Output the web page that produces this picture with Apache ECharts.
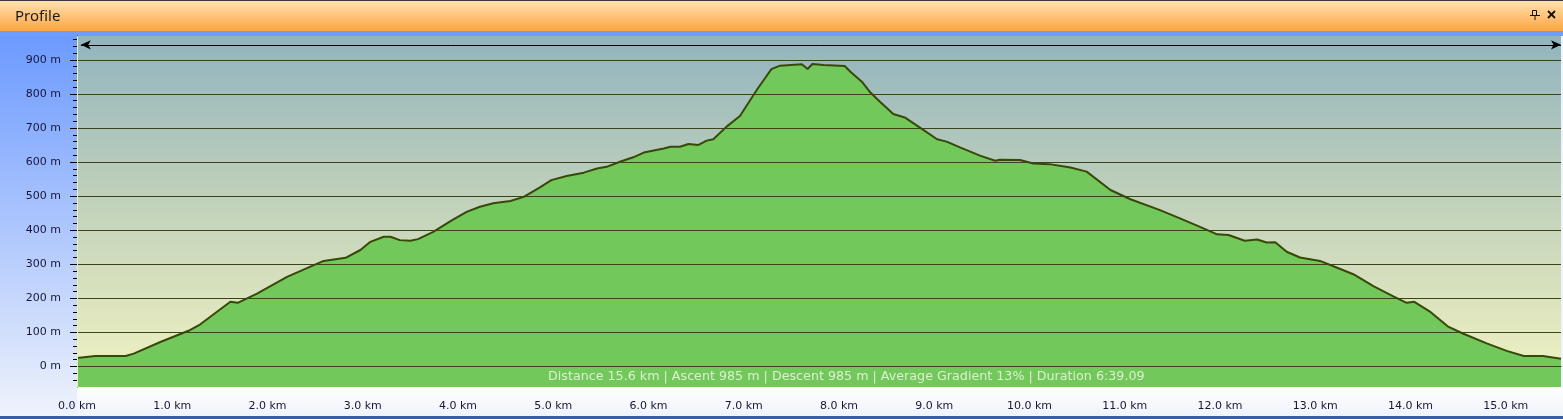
<!DOCTYPE html>
<html>
<head>
<meta charset="utf-8">
<script src="https://cdn.jsdelivr.net/npm/echarts@6/dist/echarts.min.js"></script>
<style>
html,body{margin:0;padding:0;width:1563px;height:419px;overflow:hidden;background:#eef3fc;}
#chart{width:1563px;height:419px;}
</style>
</head>
<body>
<div id="chart"></div>
<script>
// ---- data ----
const distanceKm = [
  0.00, 0.19, 0.51, 0.595, 0.875, 1.17, 1.295, 1.61, 1.687, 1.89,
  2.205, 2.45, 2.59, 2.82, 2.975, 3.08, 3.22, 3.29, 3.39, 3.50,
  3.58, 3.74, 3.93, 4.09, 4.23, 4.37, 4.55, 4.69, 4.86, 4.98,
  5.14, 5.32, 5.46, 5.56, 5.70, 5.84, 5.95, 6.16, 6.23, 6.33,
  6.42, 6.52, 6.61, 6.68, 6.82, 6.96, 7.14, 7.21, 7.29, 7.38,
  7.61, 7.67, 7.72, 7.84, 8.06, 8.12, 8.24, 8.33, 8.43, 8.57,
  8.69, 8.85, 9.03, 9.13, 9.27, 9.41, 9.48, 9.64, 9.69, 9.90,
  10.04, 10.21, 10.43, 10.60, 10.85, 11.06, 11.37, 11.58, 11.79, 11.97,
  12.09, 12.26, 12.39, 12.49, 12.58, 12.70, 12.84, 13.05, 13.23, 13.40,
  13.61, 13.82, 13.96, 14.04, 14.20, 14.39, 14.55, 14.80, 15.01, 15.19,
  15.39, 15.58
];
const elevationM = [
  25, 31, 31, 38, 72, 105, 124, 190, 187, 214,
  263, 293, 310, 319, 342, 366, 381, 381, 371, 369,
  374, 395, 428, 454, 469, 479, 486, 498, 526, 547,
  559, 569, 581, 586, 601, 614, 628, 640, 645, 645,
  653, 650, 663, 667, 704, 735, 813, 841, 873, 883,
  887, 873, 888, 885, 882, 865, 836, 804, 777, 741,
  731, 701, 667, 660, 643, 627, 619, 604, 607, 606,
  596, 594, 584, 572, 518, 491, 459, 435, 410, 388,
  386, 369, 373, 364, 365, 337, 320, 310, 290, 271,
  236, 206, 187, 190, 162, 118, 97, 68, 46, 31,
  31, 23
];
const yMajorTicks = [0, 100, 200, 300, 400, 500, 600, 700, 800, 900];
const xMajorTicks = [0, 1, 2, 3, 4, 5, 6, 7, 8, 9, 10, 11, 12, 13, 14, 15];
const totalDistanceKm = 15.58;
const arrowElevation = 944;
const panelTitle = 'Profile';
const statsText = 'Distance 15.6 km | Ascent 985 m | Descent 985 m | Average Gradient 13% | Duration 6:39.09';

// ---- chart ----
const profileData = distanceKm.map((d, i) => [d, elevationM[i]]);
const FONT = 'DejaVu Sans';
const LABEL_COLOR = '#16163a';

const chart = echarts.init(document.getElementById('chart'), null, {renderer: 'canvas'});

const grip = [];
for (let y = 6; y <= 27; y += 3) {
  grip.push({type: 'rect', shape: {x: 6, y: y, width: 2, height: 1}, style: {fill: '#4a4a4a'}, z: 10});
}

const option = {
  animation: false,
  backgroundColor: 'transparent',
  grid: {
    left: 77, right: 2, top: 36, bottom: 32,
    show: true, borderWidth: 0,
    backgroundColor: {
      type: 'linear', x: 0, y: 0, x2: 0, y2: 1,
      colorStops: [
        {offset: 0, color: '#92b4bf'},
        {offset: 0.45, color: '#bfd0bb'},
        {offset: 1, color: '#f2f3c2'}
      ]
    }
  },
  xAxis: [{
    type: 'value', min: 0, max: totalDistanceKm, interval: 0.2, offset: 3,
    axisLine: {show: true, lineStyle: {color: '#000', width: 1}},
    axisTick: {show: true, length: 3, lineStyle: {color: '#000', width: 1}},
    axisLabel: {
      interval: 0, margin: 11, fontSize: 11, fontFamily: FONT, color: LABEL_COLOR,
      showMinLabel: true, showMaxLabel: false,
      formatter: v => Math.abs(v - Math.round(v)) < 1e-6 ? Math.round(v).toFixed(1) + ' km' : ''
    },
    splitLine: {show: false}
  }, {
    type: 'value', min: 0, max: totalDistanceKm, offset: 3, position: 'bottom',
    axisLine: {show: false},
    axisTick: {show: true, length: 6, customValues: xMajorTicks, lineStyle: {color: '#000', width: 1}},
    axisLabel: {show: false},
    splitLine: {show: false}
  }],
  yAxis: [{
    type: 'value', min: -60, max: 970, interval: 20, offset: 3, position: 'left',
    axisLine: {show: true, lineStyle: {color: '#000', width: 1}},
    axisTick: {show: true, length: 4, lineStyle: {color: '#000', width: 1}},
    axisLabel: {
      interval: 0, margin: 13, fontSize: 11, fontFamily: FONT, color: LABEL_COLOR,
      showMinLabel: false, showMaxLabel: false,
      formatter: v => (Math.round(v) % 100 === 0 && v >= 0 && v <= 900) ? Math.round(v) + ' m' : ''
    },
    splitLine: {show: false}
  }, {
    type: 'value', min: -60, max: 970, offset: 3, position: 'left',
    axisLine: {show: false},
    axisTick: {show: true, length: 7, customValues: yMajorTicks, lineStyle: {color: '#000', width: 1}},
    axisLabel: {show: false},
    splitLine: {show: false}
  }],
  series: [{
    // grid lines (drawn below the profile)
    type: 'line', z: 1, xAxisIndex: 0, yAxisIndex: 0,
    data: profileData, symbol: 'none', silent: true,
    lineStyle: {opacity: 0},
    markLine: {
      silent: true, symbol: 'none', label: {show: false},
      lineStyle: {color: '#3b4418', width: 1, type: 'solid'},
      emphasis: {disabled: true},
      data: yMajorTicks.map(v => ({yAxis: v}))
    }
  }, {
    type: 'line', z: 3, xAxisIndex: 0, yAxisIndex: 0,
    data: profileData, symbol: 'none', smooth: false, silent: true,
    lineStyle: {color: '#384808', width: 2},
    areaStyle: {color: '#72c85a', opacity: 1, origin: 'start'},
    markLine: {
      silent: true, symbol: ['arrow', 'arrow'], symbolSize: [7, 10],
      label: {show: false}, emphasis: {disabled: true},
      lineStyle: {color: '#000', width: 1, type: 'solid'},
      data: [[{coord: [0.04, arrowElevation]}, {coord: [totalDistanceKm, arrowElevation]}]]
    }
  }],
  graphic: [
    // left panel
    {type: 'rect', z: -100, shape: {x: 0, y: 31, width: 77, height: 388},
     style: {fill: {type: 'linear', x: 0, y: 0, x2: 0, y2: 1, colorStops: [
       {offset: 0, color: '#6a99ff'}, {offset: 0.45, color: '#a6c1fd'}, {offset: 1, color: '#f0f4fc'}]}}},
    // top strip
    {type: 'rect', z: -100, shape: {x: 0, y: 31, width: 1563, height: 5}, style: {fill: '#6e9cff'}},
    // bottom panel
    {type: 'rect', z: -100, shape: {x: 77, y: 387, width: 1486, height: 32},
     style: {fill: {type: 'linear', x: 0, y: 0, x2: 0, y2: 1, colorStops: [
       {offset: 0, color: '#ffffff'}, {offset: 1, color: '#eef2fa'}]}}},
    // bottom border
    {type: 'rect', z: 50, shape: {x: 0, y: 416, width: 1563, height: 3}, style: {fill: '#3a5ea6'}},
    // title bar
    {type: 'rect', z: 40, shape: {x: 0, y: 0, width: 1563, height: 31},
     style: {fill: {type: 'linear', x: 0, y: 0, x2: 0, y2: 1, colorStops: [
       {offset: 0, color: '#ffe3b0'}, {offset: 0.5, color: '#ffc47c'}, {offset: 1, color: '#ffa448'}]}}},
    {type: 'rect', z: 41, shape: {x: 0, y: 0, width: 1563, height: 1}, style: {fill: '#3a3a3a'}},
    ...grip,
    {type: 'text', z: 42, x: 15, y: 17,
     style: {text: panelTitle, font: '15px "Noto Sans"', fill: '#1a1a1a', textVerticalAlign: 'middle', verticalAlign: 'middle'}},
    // pin icon
    {type: 'rect', z: 42, shape: {x: 1532.5, y: 10.5, width: 4, height: 5}, style: {fill: 'none', stroke: '#111', lineWidth: 1}},
    {type: 'line', z: 42, shape: {x1: 1530, y1: 15.5, x2: 1540, y2: 15.5}, style: {stroke: '#111', lineWidth: 1}},
    {type: 'line', z: 42, shape: {x1: 1535, y1: 15.5, x2: 1535, y2: 20}, style: {stroke: '#111', lineWidth: 1}},
    // close icon
    {type: 'line', z: 42, shape: {x1: 1548, y1: 11, x2: 1555, y2: 18}, style: {stroke: '#111', lineWidth: 1.8}},
    {type: 'line', z: 42, shape: {x1: 1555, y1: 11, x2: 1548, y2: 18}, style: {stroke: '#111', lineWidth: 1.8}},
    // pale edge line at plot left
    {type: 'line', z: 45, shape: {x1: 77.5, y1: 36, x2: 77.5, y2: 387}, style: {stroke: '#eef2a8', lineWidth: 1}},
    // stats text
    {type: 'text', z: 60, x: 548, y: 377,
     style: {text: statsText, font: '12.7px "DejaVu Sans"', fill: '#dcefd0', verticalAlign: 'middle', textVerticalAlign: 'middle'}}
  ]
};
chart.setOption(option);
</script>
</body>
</html>
